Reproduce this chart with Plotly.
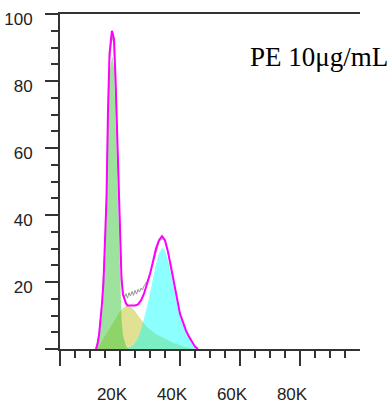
import plotly.graph_objects as go

# DNA content (K) and % of max for each fitted component
g1_x = [12.0, 12.5, 13.0, 13.5, 14.0, 14.5, 15.0, 15.5, 16.0, 16.5, 17.0, 17.5,
        18.0, 18.5, 19.0, 19.5, 20.0, 20.5, 21.0, 21.5, 22.0, 22.5, 23.0]
g1_y = [0, 1, 3, 6.5, 11, 17, 26, 40, 66, 82, 85.5, 87.5,
        84, 72, 55, 40, 22, 9, 4, 2, 0.8, 0.2, 0]

s_x = [12, 13, 14, 15, 16, 17, 18, 19, 20, 21, 22, 23, 24, 25, 26, 27, 28, 29,
       30, 31, 32, 33, 34, 35, 36, 37, 38, 39, 40, 41, 42, 43, 44, 45]
s_y = [0, 1, 2.5, 4, 5.5, 7, 8.5, 10, 11.2, 12.2, 12.8, 12.8, 12.3, 11.3, 10, 8.8, 7.6, 6.6,
       5.8, 5.1, 4.5, 4.0, 3.5, 3.0, 2.6, 2.2, 1.8, 1.4, 1.1, 0.8, 0.5, 0.3, 0.1, 0]

g2_x = [22, 23, 24, 25, 26, 27, 28, 29, 30, 31, 32, 33, 34, 35, 36, 37, 38, 39,
        40, 41, 42, 43, 44, 45, 46]
g2_y = [0, 0.3, 0.8, 1.7, 3.3, 5.7, 8.9, 12.6, 16.6, 21, 25.5, 28.5, 30.2, 29.5, 26.4, 22.3,
        17.7, 13.1, 9.4, 7.2, 5, 3.4, 1.9, 0.7, 0]

fit_x = [12.0, 12.5, 13.0, 13.5, 14.0, 14.5, 15.0, 15.5, 16.0, 16.5, 17.0, 17.3, 17.5,
         18.0, 18.5, 19.0, 19.5, 20.0, 20.5, 21.0, 21.5, 22.0, 22.5, 23, 24, 25, 26, 27, 28,
         29, 30, 31, 32, 33, 34, 35, 36, 37, 38, 39, 40, 41, 42, 43, 44, 45, 46]
fit_y = [0, 1.5, 4, 8.2, 13.5, 20, 30, 45, 71.5, 88, 92.5, 95, 94.5,
         92.5, 81, 65, 50.5, 33.5, 20.9, 16.2, 14.5, 13.6, 13.0, 13, 13, 13, 13.3, 14.5, 16.5,
         19.2, 22.4, 26.1, 30, 32.5, 33.7, 32.5, 29, 24.5, 19.5, 14.5, 10.5, 8, 5.5, 3.7, 2, 0.7, 0]

data_x = [12, 13, 14, 15, 15.5, 16, 16.5, 17, 17.5, 18, 18.5, 19, 19.5, 20, 20.5, 21, 21.5,
          22, 22.5, 23, 23.5, 24, 24.5, 25, 25.5, 26, 26.5, 27, 27.5, 28, 29, 30, 31, 32,
          33, 34, 35, 36, 37, 38, 39, 40, 41, 42, 43, 44, 45, 46]
data_y = [0, 4.5, 14, 31, 46, 70, 86, 91, 93, 91, 80, 64, 50, 34, 22, 17, 15.5,
          16.5, 15.2, 16.8, 15.8, 17.2, 16.0, 17.5, 16.4, 17.8, 17.0, 18.2, 17.6, 18.8, 20.2,
          22.5, 25.5, 29.2, 32, 33, 32.2, 28.8, 24.2, 19.2, 14.3, 10.4, 7.8, 5.3, 3.5, 1.9, 0.7, 0]

x_ticks = [0, 20, 40, 60, 80]
x_labels = ["", "20K", "40K", "60K", "80K"]
y_ticks = [0, 20, 40, 60, 80, 100]
y_labels = ["", "20", "40", "60", "80", "100"]
label_text = "PE 10μg/mL"

fig = go.Figure()
fig.add_trace(go.Scatter(x=s_x, y=s_y, mode="lines", fill="tozeroy",
                         line=dict(width=0), fillcolor="rgba(200,200,60,0.55)"))
fig.add_trace(go.Scatter(x=g1_x, y=g1_y, mode="lines", fill="tozeroy",
                         line=dict(width=0), fillcolor="rgba(60,200,60,0.5)"))
fig.add_trace(go.Scatter(x=g2_x, y=g2_y, mode="lines", fill="tozeroy",
                         line=dict(width=0), fillcolor="rgba(0,255,255,0.45)"))
fig.add_trace(go.Scatter(x=data_x, y=data_y, mode="lines",
                         line=dict(color="rgb(150,150,150)", width=1)))
fig.add_trace(go.Scatter(x=fit_x, y=fit_y, mode="lines",
                         line=dict(color="rgb(255,0,255)", width=2)))

axis_col = "#333333"
tick_font = dict(family="Liberation Sans, Arial, sans-serif", size=17, color="#222222")

fig.update_layout(
    width=390, height=404,
    margin=dict(l=60, r=30, t=14, b=55, autoexpand=False),
    plot_bgcolor="white", paper_bgcolor="white",
    showlegend=False,
    xaxis=dict(range=[0, 100], showline=True, linecolor=axis_col, linewidth=2, mirror=True,
               showgrid=False, zeroline=False, automargin=False,
               ticks="outside", ticklen=15, tickwidth=2, tickcolor=axis_col,
               tickmode="array", tickvals=x_ticks, ticktext=x_labels,
               minor=dict(tickmode="array",
                          tickvals=[5, 10, 15, 25, 30, 35, 45, 50, 55, 65, 70, 75, 85, 90, 95],
                          ticks="outside", ticklen=7, tickwidth=2, tickcolor=axis_col,
                          showgrid=False),
               tickfont=tick_font, ticklabelshift=-8, ticklabelstandoff=14,
               ticklabeloverflow="allow"),
    yaxis=dict(range=[0, 100], showline=True, linecolor=axis_col, linewidth=2, mirror=False,
               showgrid=False, zeroline=False, automargin=False,
               ticks="outside", ticklen=13, tickwidth=2, tickcolor=axis_col,
               tickmode="array", tickvals=y_ticks, ticktext=y_labels,
               minor=dict(dtick=5, ticks="outside", ticklen=7, tickwidth=2, tickcolor=axis_col,
                          showgrid=False),
               tickfont=tick_font, ticklabelshift=5, ticklabelstandoff=9,
               ticklabeloverflow="allow"),
    annotations=[dict(text=label_text, xref="paper", yref="paper", x=0.627, y=0.872,
                      xanchor="left", yanchor="middle", showarrow=False,
                      font=dict(family="Liberation Serif, Times New Roman, serif", size=27,
                                color="black"))],
)

fig.write_html("out.html", config={"displayModeBar": False},
               post_script="document.body.style.margin='0';")
